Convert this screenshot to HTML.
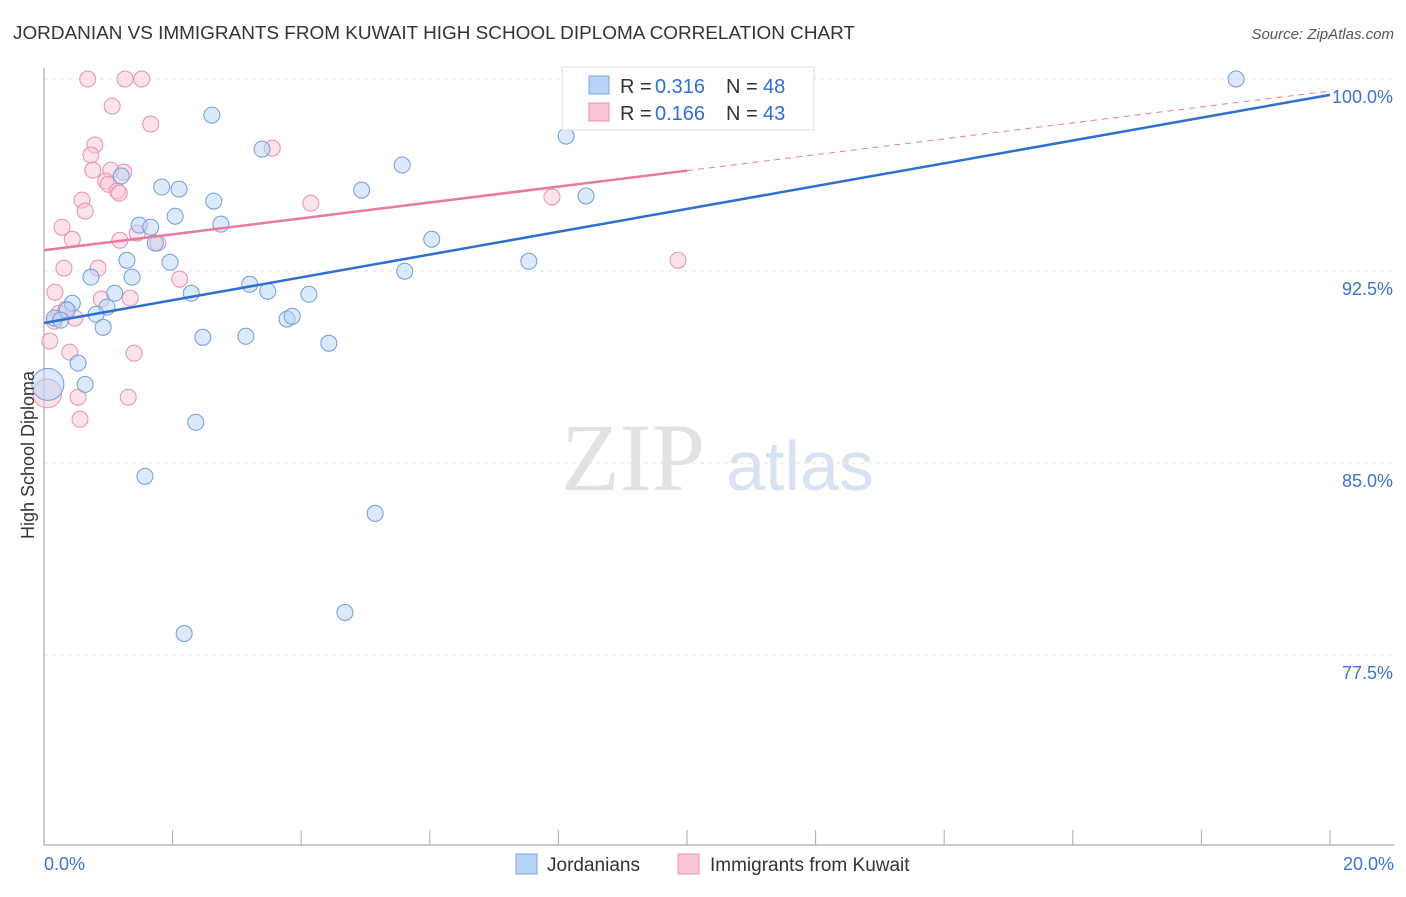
<!DOCTYPE html>
<html><head><meta charset="utf-8"><style>
body{margin:0;background:#fff;font-family:"Liberation Sans",sans-serif}
</style></head><body>
<svg id="c" width="1406" height="892" xmlns="http://www.w3.org/2000/svg" style="font-family:'Liberation Sans',sans-serif">
<text x="13" y="39" font-size="18" fill="#333" textLength="842" lengthAdjust="spacingAndGlyphs">JORDANIAN VS IMMIGRANTS FROM KUWAIT HIGH SCHOOL DIPLOMA CORRELATION CHART</text>
<text x="1394" y="39" font-size="15" fill="#555" text-anchor="end" font-style="italic">Source: ZipAtlas.com</text>
<g><text x="633" y="490" font-size="96" fill="#e2e2e2" text-anchor="middle" font-family="Liberation Serif">ZIP</text><text x="800" y="490" font-size="70" fill="#d6e3f3" text-anchor="middle">atlas</text></g>
<g id="grid"></g><g id="marks"></g>
<text transform="translate(34,455) rotate(-90)" font-size="18" fill="#333" text-anchor="middle">High School Diploma</text>
<g>
<rect x="562" y="67" width="252" height="63" fill="#fff" stroke="#ddd"/>
<rect x="589" y="76" width="20" height="18" fill="#b8d3f5" stroke="#7aa6e0"/>
<rect x="589" y="103" width="20" height="18" fill="#f9c6d6" stroke="#eb92b0"/>
<text x="620" y="93" font-size="20" fill="#333">R =</text><text x="655" y="93" font-size="20" fill="#2f6fd1">0.316</text>
<text x="726" y="93" font-size="20" fill="#333">N =</text><text x="763" y="93" font-size="20" fill="#2f6fd1">48</text>
<text x="620" y="120" font-size="20" fill="#333">R =</text><text x="655" y="120" font-size="20" fill="#2f6fd1">0.166</text>
<text x="726" y="120" font-size="20" fill="#333">N =</text><text x="763" y="120" font-size="20" fill="#2f6fd1">43</text>
</g>
<g>
<rect x="516" y="854" width="21" height="20" fill="#b8d3f5" stroke="#7aa6e0"/>
<text x="547" y="871" font-size="19" fill="#333">Jordanians</text>
<rect x="678" y="854" width="21" height="20" fill="#f9c6d6" stroke="#eb92b0"/>
<text x="710" y="871" font-size="19" fill="#333">Immigrants from Kuwait</text>
</g>
</svg>
<script>
const yTicks=[100,92.5,85,77.5];
const yTickLabels=["100.0%","92.5%","85.0%","77.5%"];
const xTickLabels=["0.0%","20.0%"];
const blueX=[2.61,3.39,8.12,18.54,5.57,1.20,1.83,2.10,2.64,4.94,8.43,2.04,1.48,1.66,2.75,1.73,6.03,1.29,1.96,7.54,0.73,1.37,5.61,3.20,3.48,2.29,1.10,4.12,0.44,0.98,0.36,0.81,0.16,0.26,3.78,3.86,0.92,2.47,3.14,4.43,0.53,0.64,0.06,2.36,1.57,5.15,4.68,2.18];
const blueY=[98.59,97.26,97.77,100,96.64,96.21,95.78,95.70,95.23,95.66,95.43,94.64,94.29,94.21,94.33,93.59,93.74,92.92,92.84,92.88,92.26,92.26,92.49,91.98,91.71,91.63,91.63,91.59,91.24,91.09,90.97,90.81,90.66,90.58,90.62,90.73,90.30,89.91,89.95,89.68,88.90,88.07,88.07,86.59,84.48,83.03,79.16,78.34];
const blueSize=[10,10,10,10,10,10,10,10,10,10,10,10,10,10,10,10,10,10,10,10,10,10,10,10,10,10,10,10,10,10,10,10,10,10,10,10,10,10,10,10,10,10,20,10,10,10,10,10];
const pinkX=[0.68,1.26,1.52,1.06,1.66,0.79,3.55,0.73,0.76,1.24,1.04,0.96,1.00,1.14,1.17,0.59,4.15,0.64,7.90,0.28,1.45,0.44,1.18,1.77,0.31,0.84,2.11,0.17,0.89,1.34,0.23,0.48,0.16,0.09,0.40,1.40,0.53,1.31,0.56,9.86,0.34,0.05];
const pinkY=[100,100,100,98.94,98.24,97.42,97.30,97.03,96.44,96.36,96.44,96.01,95.89,95.62,95.54,95.27,95.15,94.84,95.39,94.21,93.98,93.74,93.70,93.59,92.61,92.61,92.18,91.67,91.40,91.44,90.85,90.66,90.54,89.76,89.33,89.29,87.57,87.57,86.71,92.92,91.01,87.72];
const pinkSize=[10,10,10,10,10,10,10,10,10,10,10,10,10,10,10,10,10,10,10,10,10,10,10,10,10,10,10,10,10,10,10,10,10,10,10,10,10,10,10,10,10,18];
const blueTrend=[90.47,99.38];
const pinkTrend=[93.31,99.53];
const X=v=>44+v/20*1286, Y=v=>79+(100-v)*25.6;
const NS="http://www.w3.org/2000/svg";
const grid=document.getElementById('grid'), marks=document.getElementById('marks');
function mk(p,tag,a){const e=document.createElementNS(NS,tag);for(const k in a)e.setAttribute(k,a[k]);p.appendChild(e);return e;}
yTicks.forEach((t,i)=>{
 const l=mk(grid,'line',{x1:44,x2:1394,y1:Y(t),y2:Y(t),stroke:'#e3e3e3','stroke-dasharray':'4,4'});
 
 
 const tx=mk(grid,'text',{x:1393,y:Y(t)+24,'font-size':18,fill:'#3b74d1','text-anchor':'end'});tx.textContent=yTickLabels[i];
 
 
});
const ax=mk(grid,'path',{d:'M44 68V845H1394',stroke:'#999',fill:'none'});


for(let k=1;k<=10;k++){const t=mk(grid,'line',{x1:X(k*2),x2:X(k*2),y1:830,y2:845,stroke:'#aaa'});
 
 }
[[0,'start',44],[20,'end',1394]].forEach((d,i)=>{const t=mk(grid,'text',{x:d[2],y:870,'font-size':18,fill:'#3b74d1','text-anchor':d[1]});t.textContent=xTickLabels[i];
 
 });
function dots(xs,ys,ss,fill,stroke,name){xs.forEach((x,i)=>{const c=mk(marks,'circle',{cx:X(x),cy:Y(ys[i]),r:ss[i]*0.8,fill:fill,'fill-opacity':0.5,stroke:stroke,'stroke-width':1});
 
 });}
dots(pinkX,pinkY,pinkSize,'#f9c6d6','#e890ad','kuwait-point');
dots(blueX,blueY,blueSize,'#b8d3f5','#6f9ddc','jordanian-point');
const bl=mk(marks,'line',{x1:X(0),y1:Y(blueTrend[0]),x2:X(20),y2:Y(blueTrend[1]),stroke:'#2f6fd1','stroke-width':2.5});


const pv=x=>pinkTrend[0]+(pinkTrend[1]-pinkTrend[0])*x/20;
const pd=mk(marks,'line',{x1:X(10),y1:Y(pv(10)),x2:X(20),y2:Y(pv(20)),stroke:'#e8799f','stroke-width':1,'stroke-dasharray':'6,5'});


const pl=mk(marks,'line',{x1:X(0),y1:Y(pv(0)),x2:X(10),y2:Y(pv(10)),stroke:'#e8799f','stroke-width':2.5});


</script>
</body></html>
